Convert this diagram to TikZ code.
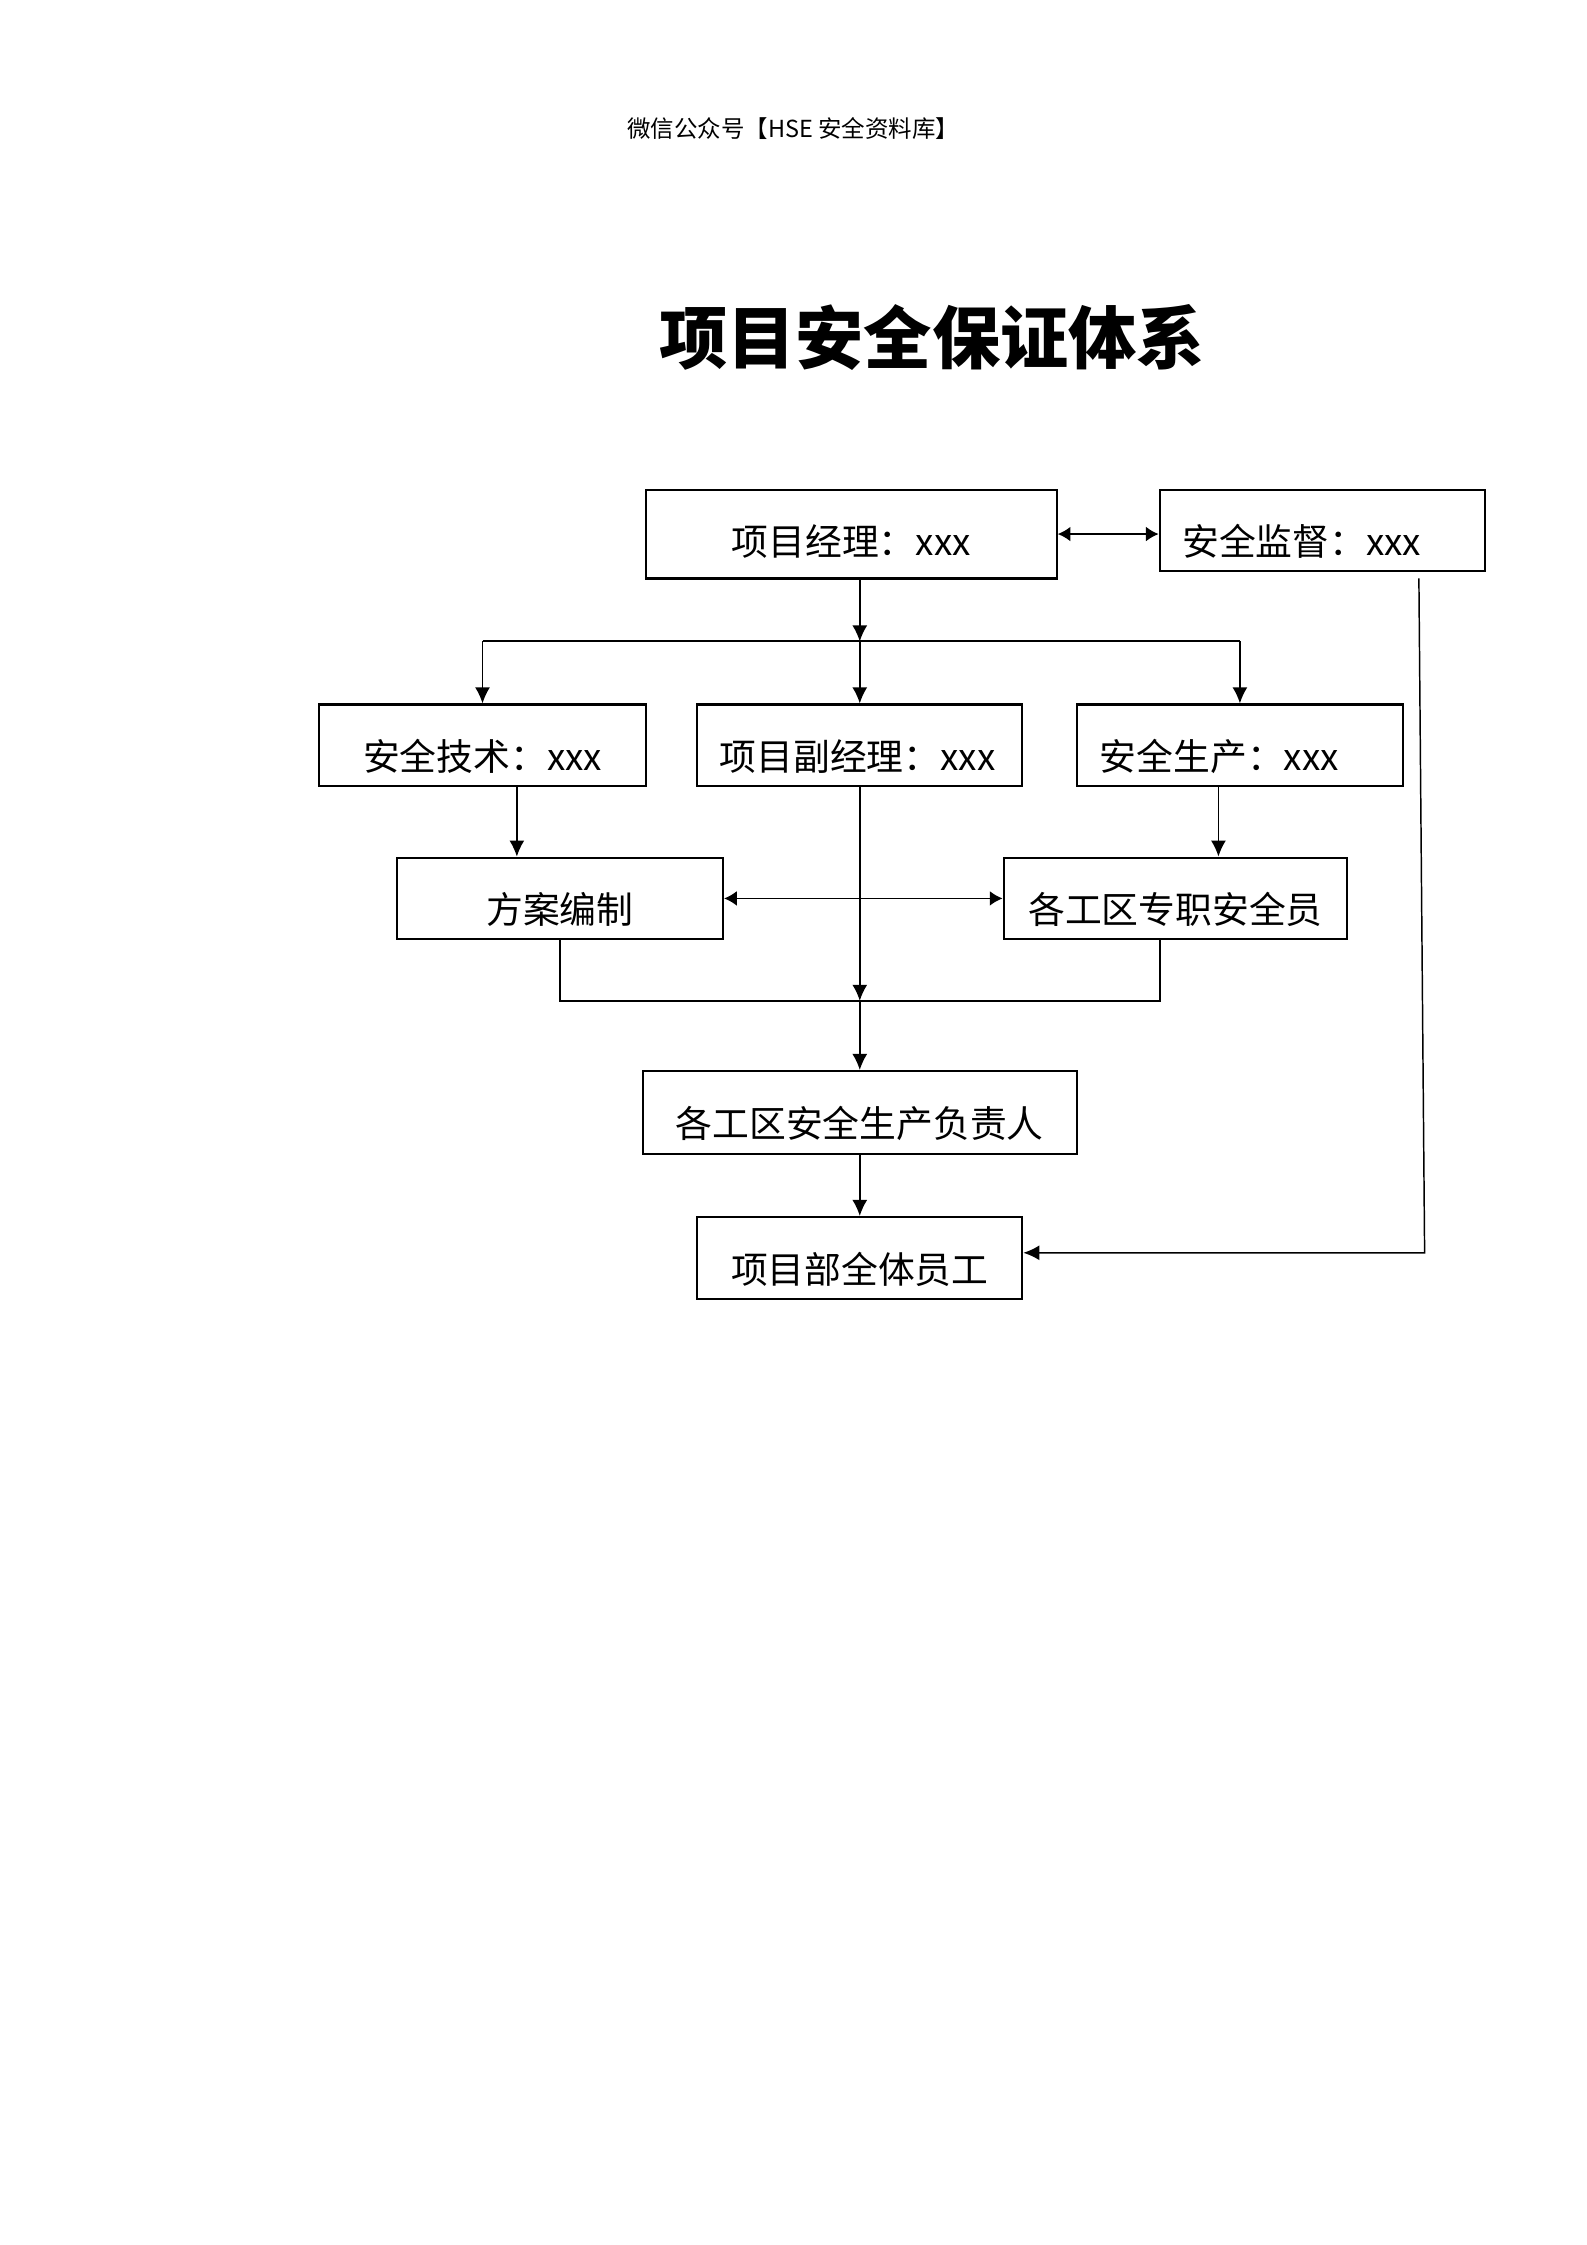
\documentclass[tikz,border=0pt]{standalone}
\usepackage{fontspec}
\setmainfont{Noto Sans CJK SC}
\usetikzlibrary{arrows.meta}

\begin{document}
\begin{tikzpicture}[x=0.537pt, y=-0.537pt]
    % Define styles for boxes and arrows
    \tikzstyle{post} = [rectangle, minimum width=122.4pt, minimum height=30.6pt, text centered, draw=black, line width=0.8pt, inner sep=0pt, text height=19pt, text depth=0pt, font=\fontsize{13.8}{16}\selectfont]
    \tikzstyle{postleft} = [post, align=left, text width=105pt]
    \tikzstyle{arrow} = [->, >={Latex[length=6pt, width=5.6pt]}, line width=0.55pt]
    \tikzstyle{link} = [line width=0.7pt]
    % Arrow style for two-way links
    \tikzset{doubleArrow/.style={<->, >={Latex[length=4.8pt, width=5.6pt]},
        line width=0.7pt, draw=black
    }}
    \useasboundingbox (0,0) rectangle (1108,1568);
    % Header and title
    \node (wx) at (554,90) {\fontsize{8.8}{10}\selectfont 微信公众号【HSE 安全资料库】};
    \node (title) at (651,236) {\fontsize{25.6}{30}\selectfont\bfseries 项目安全保证体系};
    % Nodes
    \node (pm) [post, minimum width=154.1pt, minimum height=33.3pt, text height=16pt] at (594.5,373) {项目经理：xxx};
    \node (jd) [postleft, minimum width=121.9pt] at (923.5,370.5) {安全监督：xxx};
    \node (aq) [post] at (337,520.5) {安全技术：xxx};
    \node (fg) [postleft, minimum width=121.9pt] at (600.5,520.5) {项目副经理：xxx};
    \node (sc) [postleft] at (866,520.5) {安全生产：xxx};
    \node (fa) [post] at (391,627.5) {方案编制};
    \node (zz) [post, minimum width=128.9pt] at (821,627.5) {各工区专职安全员};
    \node (fz) [post, minimum width=162.7pt, minimum height=31.1pt] at (600.5,777) {各工区安全生产负责人};
    \node (qt) [post, minimum width=121.9pt] at (600.5,878.5) {项目部全体员工};
    % Connections
    \coordinate (top) at (600.5,448);
    \coordinate (mid) at (600.5,699);
    \draw [doubleArrow] (pm.east) -- (pm.east -| jd.west);
    \draw [arrow] (pm.south -| top) -- (top);
    \draw [link] (aq.north |- top) -- (sc.north |- top);
    \draw [arrow] (aq.north |- top) -- (aq.north);
    \draw [arrow] (top) -- (fg.north);
    \draw [arrow] (sc.north |- top) -- (sc.north);
    \coordinate (aqout) at (aq.south -| 361,0);
    \draw [arrow] (aqout) -- (aqout |- fa.north);
    \coordinate (scout) at (sc.south -| 851,0);
    \draw [arrow] (scout) -- (scout |- zz.north);
    \draw [arrow] (fg.south) -- (mid);
    \draw [arrow] (mid) -- (fz.north);
    \draw [doubleArrow] (fa.east) -- (zz.west);
    \coordinate (zzout) at (zz.south -| 810,0);
    \draw [link] (fa.south) |- (mid) -| (zzout);
    \draw [arrow] (fz.south) -- (qt.north);
    \coordinate (jdout) at (991,404);
    \coordinate (turn) at (995,875);
    \draw [arrow] (jdout) -- (turn) -- (turn -| qt.east);
\end{tikzpicture}
\end{document}
